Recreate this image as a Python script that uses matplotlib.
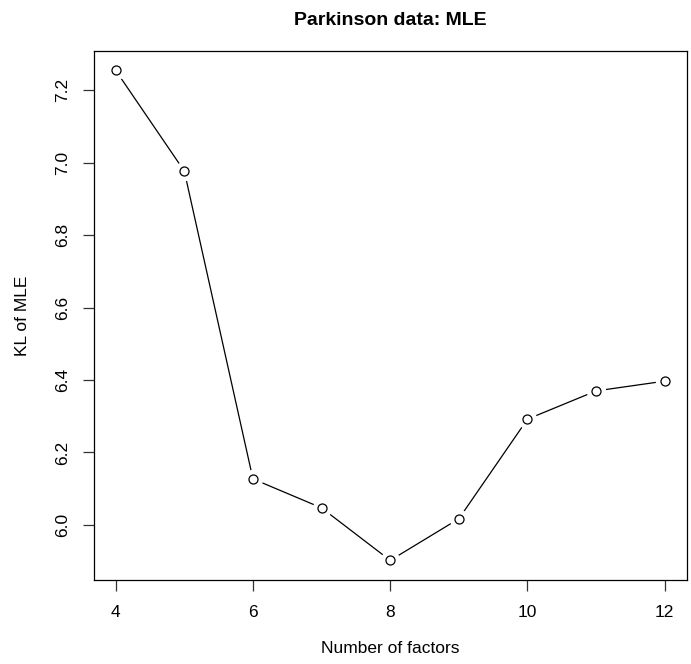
import matplotlib
matplotlib.use("Agg")
import matplotlib.pyplot as plt

plt.rcParams['font.family'] = ['Liberation Sans', 'DejaVu Sans']

# KL of MLE by number of factors
n_factors = [4, 5, 6, 7, 8, 9, 10, 11, 12]
kl_mle = [7.255, 6.977, 6.127, 6.047, 5.902, 6.017, 6.292, 6.370, 6.397]
x_ticks = [4, 6, 8, 10, 12]
y_ticks = [6.0, 6.2, 6.4, 6.6, 6.8, 7.0, 7.2]

fig = plt.figure(figsize=(6.91, 6.64), dpi=100)
ax = fig.add_axes([0.1356, 0.1265, 0.8582, 0.797])

ax.plot(n_factors, kl_mle, color='black', lw=0.9, zorder=1)
# white halo so the line stops short of each point, like R type="b"
ax.plot(n_factors, kl_mle, ls='none', marker='o', ms=13, mfc='white', mec='white', zorder=2)
ax.plot(n_factors, kl_mle, ls='none', marker='o', ms=6.5, mfc='white', mec='black', mew=0.9, zorder=3)

lo, hi = min(kl_mle), max(kl_mle)
pad = (hi - lo) * 0.04
ax.set_ylim(lo - pad, hi + pad)
ax.set_xlim(4 - 0.32, 12 + 0.32)

ax.set_xticks(x_ticks)
ax.set_yticks(y_ticks)
ax.set_yticklabels([f'{v:.1f}' for v in y_ticks], rotation=90, va='center')
ax.tick_params(axis='both', length=8, width=0.9, labelsize=12.5, color='#333333')
ax.tick_params(axis='x', pad=10)
ax.tick_params(axis='y', pad=9)
for s in ax.spines.values():
    s.set_linewidth(0.9)

ax.set_xlabel('Number of factors', fontsize=12.5, labelpad=15)
ax.set_ylabel('KL of MLE', fontsize=12.5, labelpad=18)
fig.text(0.5 * (0.1356 + 0.9938), 1 - 25 / 664, 'Parkinson data: MLE',
         ha='center', va='baseline', fontsize=14, fontweight='bold')

fig.savefig('out.png', dpi=100)
